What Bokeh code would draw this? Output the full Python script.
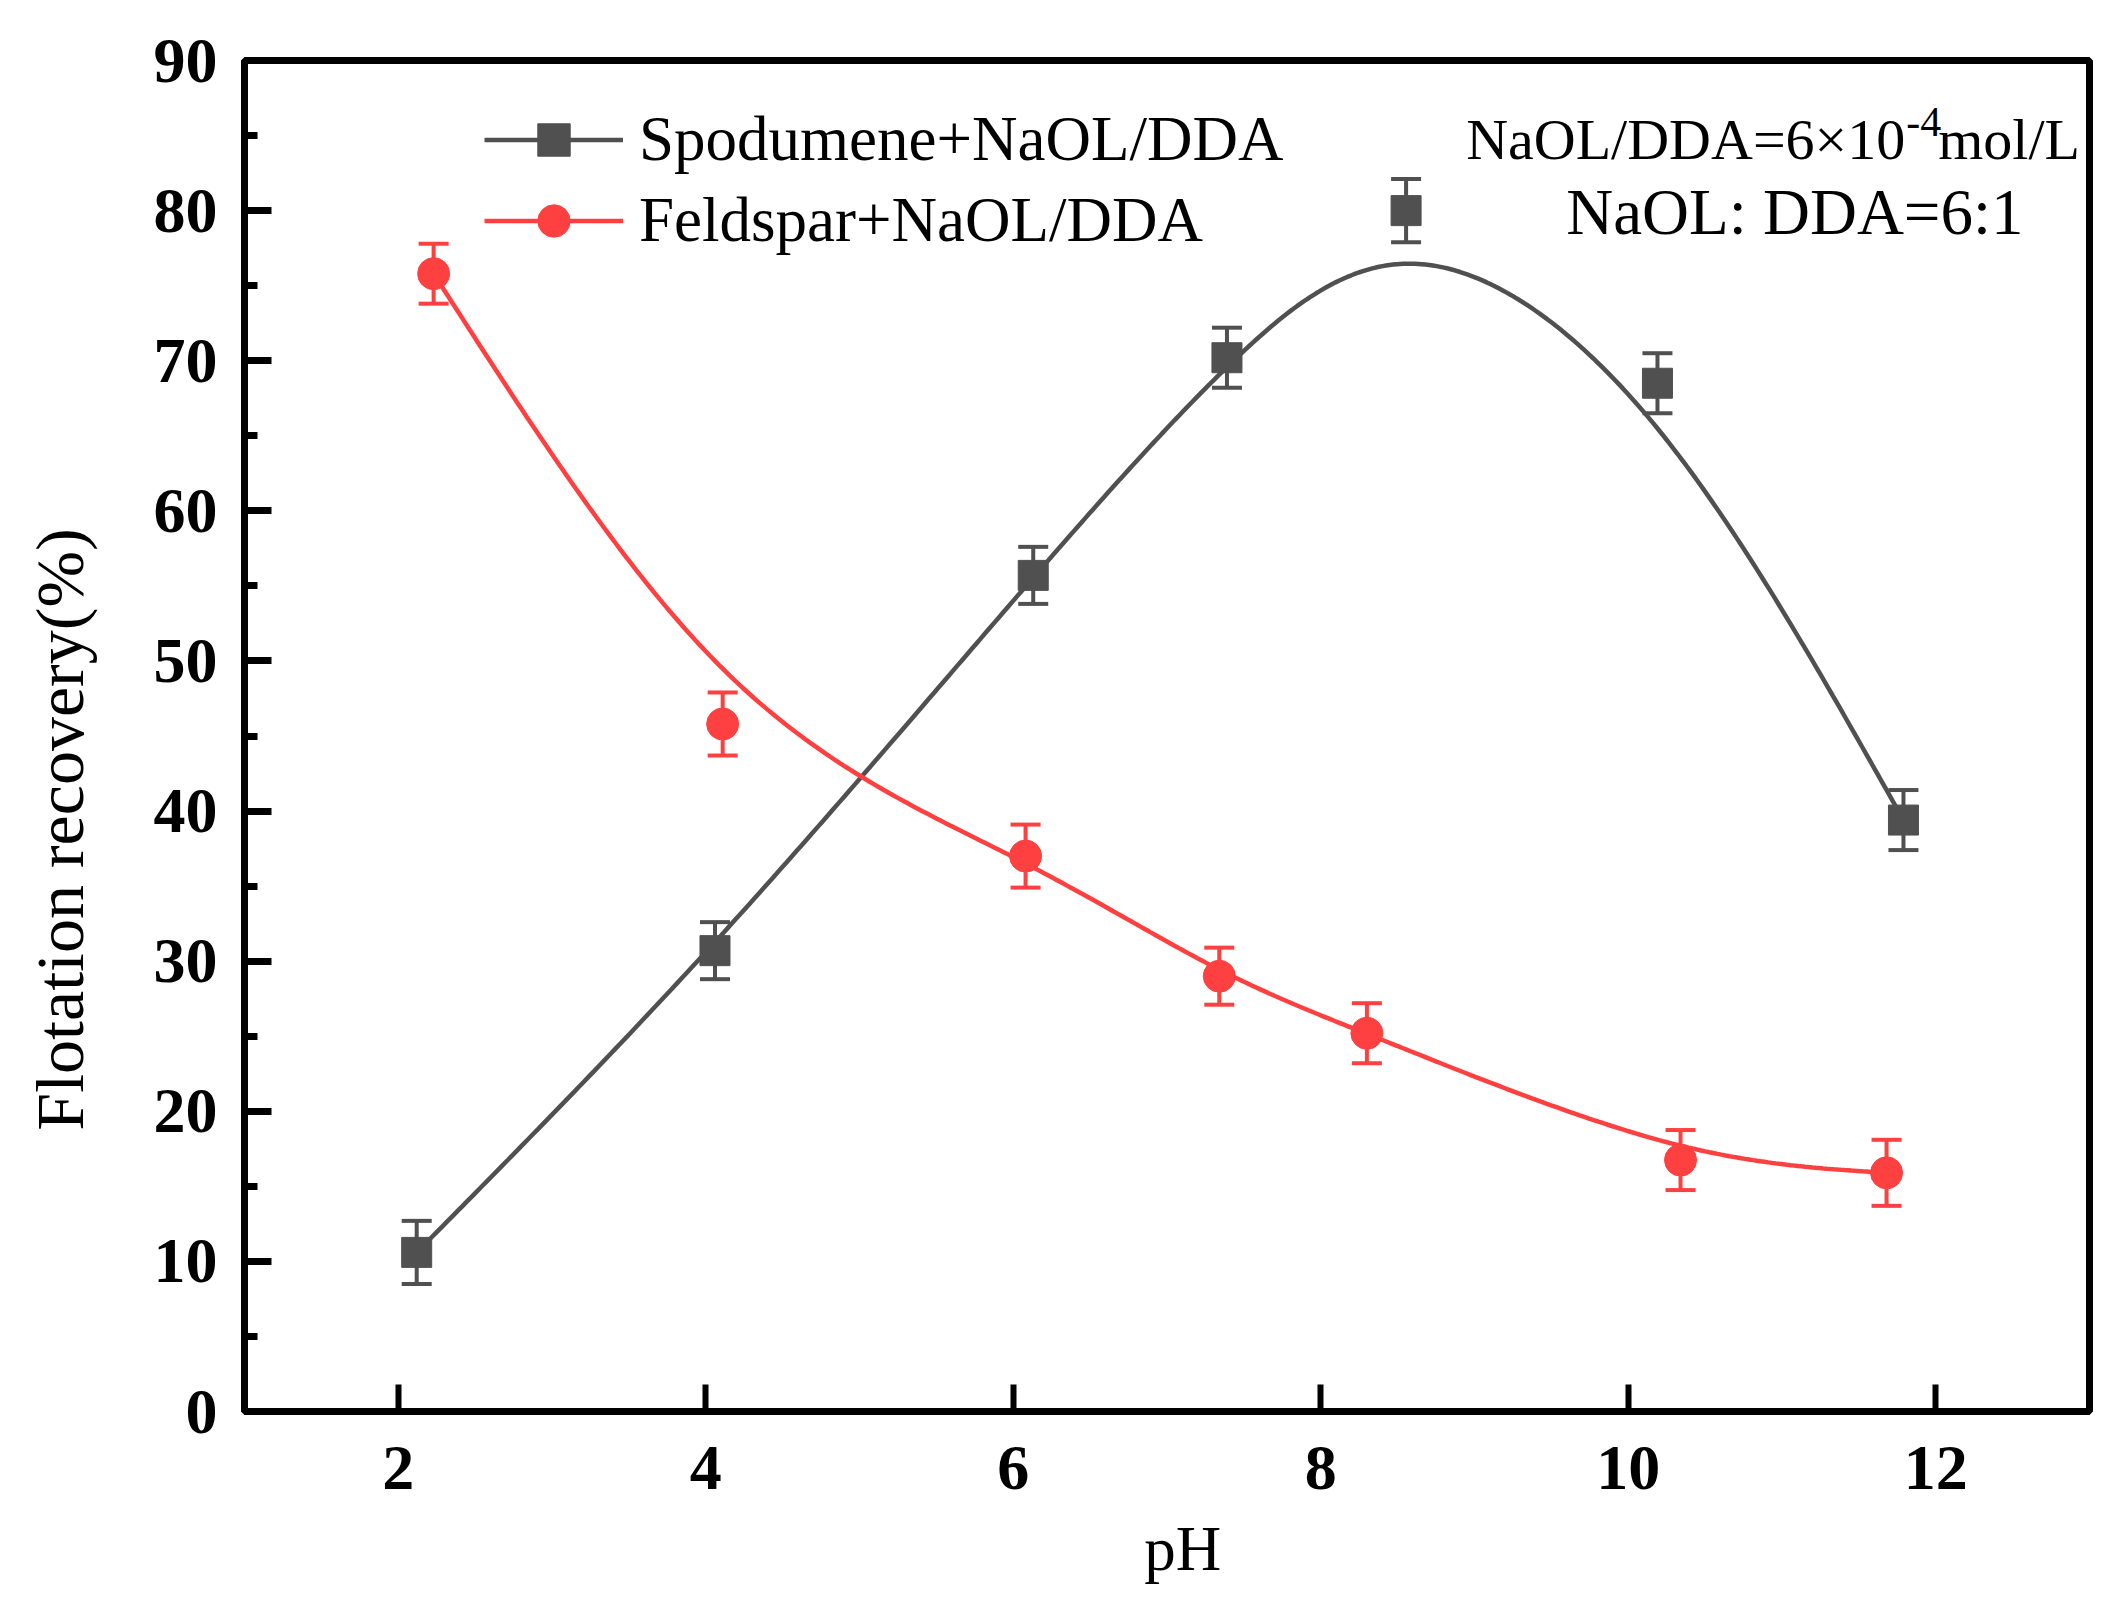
import numpy as np
from bokeh.plotting import figure
from bokeh.models import (ColumnDataSource, Whisker, TeeHead, Legend, LegendItem,
                          Label, FixedTicker)
from bokeh.embed import file_html
from bokeh.resources import INLINE

# data
ph_spod = [2.12, 4.06, 6.13, 7.39, 8.555, 10.19, 11.79]
rec_spod = [10.6, 30.7, 55.7, 70.2, 80.0, 68.5, 39.4]
err_spod = [2.1, 1.9, 1.9, 2.0, 2.1, 2.0, 2.0]

ph_feld = [2.23, 4.11, 6.08, 7.34, 8.30, 10.34, 11.68]
rec_feld = [75.8, 45.8, 37.0, 29.0, 25.2, 16.75, 15.9]
err_feld = [2.0, 2.1, 2.1, 1.9, 2.0, 2.0, 2.2]

x_ticks = [2, 4, 6, 8, 10, 12]
y_ticks = [0, 10, 20, 30, 40, 50, 60, 70, 80, 90]
y_minor = [5, 15, 25, 35, 45, 55, 65, 75, 85]

GRAY = "#505050"
RED = "#ff4040"
FONT = "Liberation Serif"
NB = "\u00a0"


def bspline(xs, ys, per_seg=60):
    # uniform cubic B-spline through the end points (Origin "B-Spline" connect),
    # data points used as control points, end points mirrored
    px = np.asarray(xs, float)
    py = np.asarray(ys, float)
    qx = np.r_[2 * px[0] - px[1], px, 2 * px[-1] - px[-2]]
    qy = np.r_[2 * py[0] - py[1], py, 2 * py[-1] - py[-2]]
    t = np.linspace(0, 1, per_seg)
    w = np.array([(1 - t) ** 3, 3 * t ** 3 - 6 * t ** 2 + 4,
                  -3 * t ** 3 + 3 * t ** 2 + 3 * t + 1, t ** 3]) / 6
    ox, oy = [], []
    for i in range(len(px) - 1):
        ox.append(w.T @ qx[i:i + 4])
        oy.append(w.T @ qy[i:i + 4])
    return np.concatenate(ox), np.concatenate(oy)


p = figure(width=2104, height=1600, x_range=(1, 13), y_range=(0, 90),
           output_backend="svg", toolbar_location=None,
           min_border_left=244, min_border_right=15, min_border_top=60, min_border_bottom=189)
p.grid.visible = False
p.outline_line_color = "black"
p.outline_line_width = 7
p.outline_line_alpha = 1
p.background_fill_color = "white"
p.border_fill_color = "white"

p.xaxis.ticker = FixedTicker(ticks=x_ticks, minor_ticks=[])
p.yaxis.ticker = FixedTicker(ticks=y_ticks, minor_ticks=y_minor)
for ax in (p.xaxis[0], p.yaxis[0]):
    ax.axis_line_width = 7
    ax.axis_line_color = "black"
    ax.major_tick_in = 27
    ax.major_tick_out = 0
    ax.minor_tick_in = 13
    ax.minor_tick_out = 0
    ax.major_tick_line_color = "black"
    ax.minor_tick_line_color = "black"
    ax.major_label_text_font = FONT
    ax.major_label_text_font_size = "64px"
    ax.major_label_text_font_style = "bold"
    ax.major_label_text_color = "black"
    ax.axis_label_text_font = FONT
    ax.axis_label_text_font_style = "normal"
    ax.axis_label_text_color = "black"
p.xaxis.major_tick_line_width = 6
p.yaxis.major_tick_line_width = 7
p.yaxis.minor_tick_line_width = 7
p.xaxis.major_label_standoff = 35
p.yaxis.major_label_standoff = 27

# axis titles (non-breaking spaces shift them off-centre like the original)
p.yaxis.axis_label = "Flotation recovery(%)" + NB * 11
p.yaxis.axis_label_text_font_size = "68px"
p.yaxis.axis_label_standoff = 53
p.xaxis.axis_label = NB * 2 + "pH"
p.xaxis.axis_label_text_font_size = "63px"
p.xaxis.axis_label_standoff = 22

src_s = ColumnDataSource(dict(x=ph_spod, y=rec_spod,
                              lo=[v - e for v, e in zip(rec_spod, err_spod)],
                              hi=[v + e for v, e in zip(rec_spod, err_spod)]))
src_f = ColumnDataSource(dict(x=ph_feld, y=rec_feld,
                              lo=[v - e for v, e in zip(rec_feld, err_feld)],
                              hi=[v + e for v, e in zip(rec_feld, err_feld)]))

for src, col in ((src_s, GRAY), (src_f, RED)):
    w = Whisker(base="x", lower="lo", upper="hi", source=src, line_color=col, line_width=4,
                lower_head=TeeHead(size=30, line_color=col, line_width=4),
                upper_head=TeeHead(size=30, line_color=col, line_width=4))
    p.add_layout(w)

sx, sy = bspline(ph_spod, rec_spod)
fx, fy = bspline(ph_feld, rec_feld)
l1 = p.line(sx, sy, line_color=GRAY, line_width=4.5)
l2 = p.line(fx, fy, line_color=RED, line_width=4.5)
m1 = p.scatter("x", "y", source=src_s, marker="square", size=30, color=GRAY)
m2 = p.scatter("x", "y", source=src_f, marker="circle", size=32, color=RED)

legend = Legend(items=[LegendItem(label="Spodumene+NaOL/DDA", renderers=[l1, m1]),
                       LegendItem(label="Feldspar+NaOL/DDA", renderers=[l2, m2])],
                location=(240, 1150), glyph_width=139, glyph_height=81, label_height=81,
                label_standoff=16, spacing=0, padding=0, margin=0,
                background_fill_alpha=0, border_line_alpha=0,
                label_text_font=FONT, label_text_font_size="63px", label_text_color="black")
p.add_layout(legend)

# condition notes
p.add_layout(Label(x=11.802, y=84.74, text="NaOL/DDA=6×10", text_align="right",
                   text_baseline="middle", text_font=FONT, text_font_size="58px",
                   text_color="black"))
p.add_layout(Label(x=11.808, y=85.91, text="-4", text_align="left",
                   text_baseline="middle", text_font=FONT, text_font_size="42px",
                   text_color="black"))
p.add_layout(Label(x=12.016, y=84.74, text="mol/L", text_align="left",
                   text_baseline="middle", text_font=FONT, text_font_size="58px",
                   text_color="black"))
p.add_layout(Label(x=9.597, y=79.88, text="NaOL: DDA=6:1", text_align="left",
                   text_baseline="middle", text_font=FONT, text_font_size="65px",
                   text_color="black"))

open("out.html", "w").write(file_html(p, INLINE))
